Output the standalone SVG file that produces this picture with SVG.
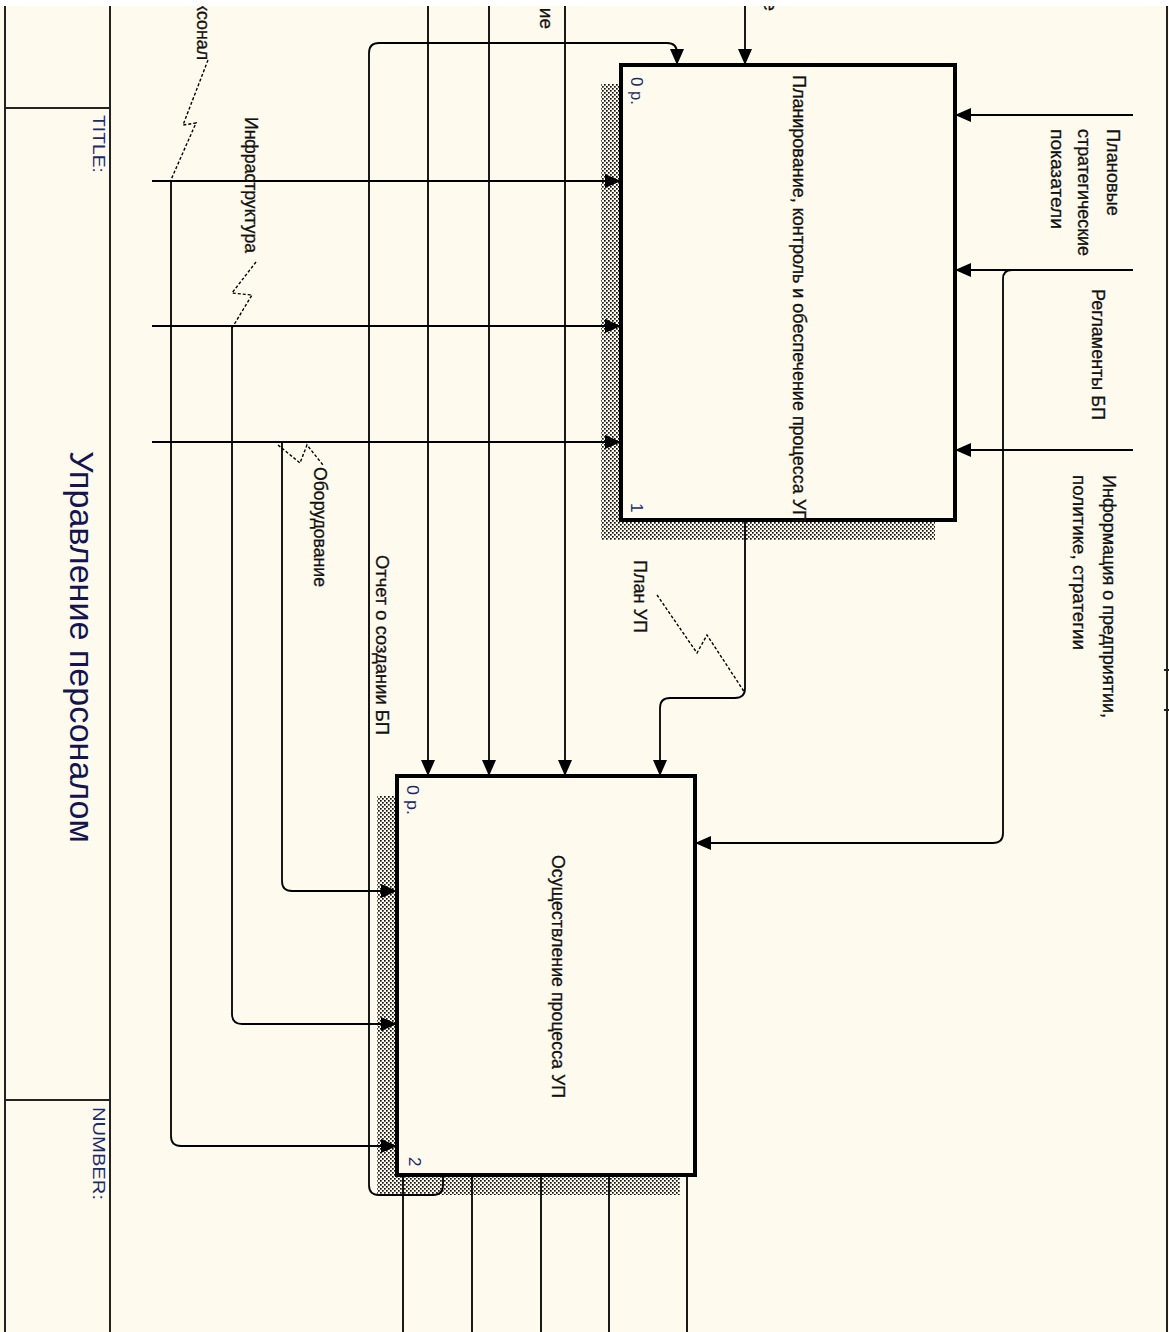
<svg xmlns="http://www.w3.org/2000/svg" width="1169" height="1332" viewBox="0 0 1169 1332">
<style>
.ln{fill:none;stroke:#000;stroke-width:1.8}
.fr{fill:none;stroke:#222;stroke-width:2}
.box{fill:#FFFAEE;stroke:#000;stroke-width:4}
.sq{fill:none;stroke:#000;stroke-width:1.4;stroke-dasharray:3,2}
.lb{font-family:"Liberation Sans",Arial,sans-serif;font-size:19px;fill:#111;stroke:#111;stroke-width:0.3}
.sm{font-family:"Liberation Sans",Arial,sans-serif;font-size:17px;fill:#1b2a6b}
.tt{font-family:"Liberation Sans",Arial,sans-serif;font-size:34px;fill:#141450}
</style>
<defs>
<pattern id="hatch" width="4" height="4" patternUnits="userSpaceOnUse">
<rect width="4" height="4" fill="#FFFAEE"/>
<rect x="0" y="0" width="1.7" height="1.7" fill="#111"/>
<rect x="2" y="2" width="1.7" height="1.7" fill="#111"/>
</pattern>
<marker id="ah" markerWidth="17" markerHeight="16" refX="16" refY="8" orient="auto" markerUnits="userSpaceOnUse">
<path d="M0,1 L16,8 L0,15 Z" fill="#000"/>
</marker>
</defs>
<rect x="0" y="0" width="1169" height="1332" fill="#FFFAEE"/>

<g id="frame">
<line class="fr" x1="5" y1="6" x2="5" y2="1332"/>
<line class="fr" x1="110" y1="6" x2="110" y2="1332"/>
<line class="fr" x1="5" y1="108" x2="110" y2="108"/>
<line class="fr" x1="5" y1="1100" x2="110" y2="1100"/>
<line class="fr" x1="1167" y1="6" x2="1167" y2="1332"/>
<line class="fr" x1="1164" y1="670" x2="1169" y2="670"/>
<line class="fr" x1="1164" y1="710" x2="1169" y2="710"/>
<text class="sm" transform="translate(93,115) rotate(90)" textLength="58" lengthAdjust="spacingAndGlyphs">TITLE:</text>
<text class="sm" transform="translate(93,1107) rotate(90)" textLength="93" lengthAdjust="spacingAndGlyphs">NUMBER:</text>
<text class="tt" transform="translate(70,451) rotate(90)" textLength="392" lengthAdjust="spacingAndGlyphs">Управление персоналом</text>
</g>

<g id="node1">
<rect x="601" y="84" width="334" height="456" fill="url(#hatch)"/>
<rect class="box" x="621" y="65" width="334" height="455"/>
<text class="sm" transform="translate(631,77) rotate(90)" textLength="28" lengthAdjust="spacingAndGlyphs">0 р.</text>
<text class="sm" transform="translate(631,503) rotate(90)">1</text>
<text class="lb" transform="translate(793,75) rotate(90)" textLength="448" lengthAdjust="spacingAndGlyphs">Планирование, контроль и обеспечение процесса УП</text>
</g>

<g id="node2">
<rect x="377" y="796" width="303" height="399" fill="url(#hatch)"/>
<rect class="box" x="397" y="776" width="298" height="399"/>
<text class="sm" transform="translate(407,785) rotate(90)" textLength="30" lengthAdjust="spacingAndGlyphs">0 р.</text>
<text class="sm" transform="translate(409,1157) rotate(90)">2</text>
<text class="lb" transform="translate(552,855) rotate(90)" textLength="243" lengthAdjust="spacingAndGlyphs">Осуществление процесса УП</text>
</g>

<g id="connectors">
<path class="ln" d="M745,6 L745,65" marker-end="url(#ah)"/>
<path class="ln" d="M428,6 L428,776" marker-end="url(#ah)"/>
<path class="ln" d="M489,6 L489,776" marker-end="url(#ah)"/>
<path class="ln" d="M565,6 L565,776" marker-end="url(#ah)"/>
<path class="ln" d="M443,1175 L443,1185 Q443,1195 433,1195 L379,1195 Q369,1195 369,1185 L369,53 Q369,43 379,43 L667,43 Q677,43 677,53 L677,65" marker-end="url(#ah)"/>
<path class="ln" d="M1133,115 L955,115" marker-end="url(#ah)"/>
<path class="ln" d="M1133,270 L955,270" marker-end="url(#ah)"/>
<path class="ln" d="M1133,450 L955,450" marker-end="url(#ah)"/>
<path class="ln" d="M1012,270 Q1003,270 1003,279 L1003,833 Q1003,843 993,843 L695,843" marker-end="url(#ah)"/>
<path class="ln" d="M152,181 L621,181" marker-end="url(#ah)"/>
<path class="ln" d="M152,326 L621,326" marker-end="url(#ah)"/>
<path class="ln" d="M152,442 L621,442" marker-end="url(#ah)"/>
<path class="ln" d="M171,181 L171,1136 Q171,1146 181,1146 L397,1146" marker-end="url(#ah)"/>
<path class="ln" d="M232,326 L232,1014 Q232,1024 242,1024 L397,1024" marker-end="url(#ah)"/>
<path class="ln" d="M282,442 L282,881 Q282,891 292,891 L397,891" marker-end="url(#ah)"/>
<path class="ln" d="M745,520 L745,688 Q745,698 735,698 L670,698 Q660,698 660,708 L660,776" marker-end="url(#ah)"/>
<path class="ln" d="M403,1175 L403,1332"/>
<path class="ln" d="M472,1175 L472,1332"/>
<path class="ln" d="M541,1175 L541,1332"/>
<path class="ln" d="M609,1175 L609,1332"/>
<path class="ln" d="M687,1175 L687,1332"/>
<polyline class="sq" points="208,60 183,125 196,123 170,182"/>
<polyline class="sq" points="256,262 232,293 252,295 232,328"/>
<polyline class="sq" points="278,445 300,463 307,445 323,465"/>
<polyline class="sq" points="657,595 697,653 707,635 745,693"/>
<text class="lb" transform="translate(197,3) rotate(90)" textLength="57" lengthAdjust="spacingAndGlyphs">ксонал</text>
<text class="lb" transform="translate(540,29) rotate(90)" text-anchor="end">ие</text>
<text class="lb" transform="translate(764,11) rotate(90)" text-anchor="end">е</text>
<text class="lb" transform="translate(245,117) rotate(90)" textLength="136" lengthAdjust="spacingAndGlyphs">Инфраструктура</text>
<text class="lb" transform="translate(314,467) rotate(90)" textLength="120" lengthAdjust="spacingAndGlyphs">Оборудование</text>
<text class="lb" transform="translate(376,555) rotate(90)" textLength="180" lengthAdjust="spacingAndGlyphs">Отчет о создании БП</text>
<text class="lb" transform="translate(634,560) rotate(90)" textLength="73" lengthAdjust="spacingAndGlyphs">План УП</text>
<text class="lb" transform="translate(1107,129) rotate(90)" textLength="87" lengthAdjust="spacingAndGlyphs">Плановые</text>
<text class="lb" transform="translate(1078,129) rotate(90)" textLength="127" lengthAdjust="spacingAndGlyphs">стратегические</text>
<text class="lb" transform="translate(1051,129) rotate(90)" textLength="100" lengthAdjust="spacingAndGlyphs">показатели</text>
<text class="lb" transform="translate(1092,289) rotate(90)" textLength="131" lengthAdjust="spacingAndGlyphs">Регламенты БП</text>
<text class="lb" transform="translate(1103,475) rotate(90)" textLength="243" lengthAdjust="spacingAndGlyphs">Информация о предприятии,</text>
<text class="lb" transform="translate(1073,475) rotate(90)" textLength="175" lengthAdjust="spacingAndGlyphs">политике, стратегии</text>
</g>
<rect x="0" y="0" width="1169" height="6" fill="#FFFFFF"/>
</svg>
